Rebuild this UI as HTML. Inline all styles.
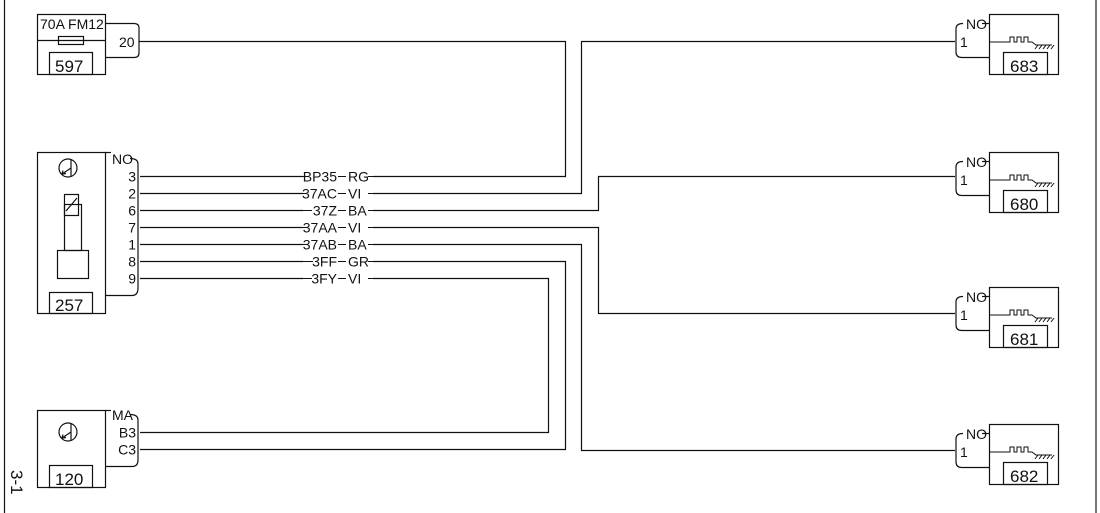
<!DOCTYPE html>
<html><head><meta charset="utf-8"><style>
html,body{margin:0;padding:0;background:#fff;}
svg{display:block;}
text{font-family:"Liberation Sans Narrow","Liberation Sans",sans-serif;font-size:14px;fill:#111;}
.big{font-size:17px;}
</style></head><body>
<svg width="1100" height="513" viewBox="0 0 1100 513" xmlns="http://www.w3.org/2000/svg">
<defs>
<g id="sig" stroke="#111" stroke-width="1" fill="none">
<path d="M0,28 H20 V23 H24 V28 H27 V23 H31 V28 H34 V23 H38 V28 H42 L46,31 H62"/>
<path d="M45,35 L48,31 M49,35 L52,31 M53,35 L56,31 M57,35 L60,31 M61,35 L64,31"/>
</g>
</defs>
<g stroke="#111" stroke-width="1.2" fill="none">
<line x1="4.5" y1="0" x2="4.5" y2="513"/>
<line x1="1096" y1="0" x2="1096" y2="513" stroke-width="1.6" stroke="#555"/>
<rect x="37.5" y="14.5" width="68" height="60"/>
<line x1="37" y1="40.5" x2="105" y2="40.5"/>
<rect x="58.5" y="36.5" width="25" height="8"/>
<rect x="49.5" y="52.5" width="43" height="22"/>
<path d="M105,23.5 H134 Q139,23.5 139,28 V53 Q139,57.5 134,57.5 H105"/>
<rect x="37.5" y="152.5" width="68" height="161"/>
<rect x="49.5" y="292.5" width="43" height="21"/>
<circle cx="68" cy="168" r="9"/>
<path d="M71,160 V176 M71,168 L62,174 M62,174 l4,-0.5 M62,174 l1,-3.5"/>
<rect x="64.5" y="194.5" width="14" height="21"/>
<line x1="66" y1="211" x2="77" y2="198"/>
<rect x="64.5" y="204.5" width="17" height="46" />
<rect x="57.5" y="250.5" width="31" height="28"/>
<path d="M105,152.5 H111"/>
<path d="M130,158.5 Q138,158.5 138,164 V288 Q138,295.5 132,295.5 H105"/>
<rect x="37.5" y="410.5" width="68" height="77"/>
<rect x="49.5" y="465.5" width="43" height="22"/>
<circle cx="68" cy="432" r="9"/>
<path d="M71,424 V440 M71,432 L62,438 M62,438 l4,-0.5 M62,438 l1,-3.5"/>
<path d="M105,410.5 H111"/>
<path d="M130,414.5 Q138,414.5 138,420 V460 Q138,466.5 132,466.5 H105"/>
<path d="M139,41.5 H565.5 V176.5 H140"/>
<path d="M140,193.5 H581.5 V41.5 H955"/>
<path d="M140,210.5 H598.5 V176.5 H955"/>
<path d="M140,227.5 H598.5 V313.5 H955"/>
<path d="M140,244.5 H581.5 V450.5 H955"/>
<path d="M140,261.5 H565.5 V449.5 H140"/>
<path d="M140,278.5 H548.5 V432.5 H140"/>
</g>
<g fill="#fff">
<rect x="303" y="169" width="70" height="15"/>
<rect x="303" y="186" width="70" height="15"/>
<rect x="303" y="203" width="70" height="15"/>
<rect x="303" y="220" width="70" height="15"/>
<rect x="303" y="237" width="70" height="15"/>
<rect x="303" y="254" width="70" height="15"/>
<rect x="303" y="271" width="70" height="15"/>
</g>
<g stroke="#111" stroke-width="1">
<line x1="338" y1="176.5" x2="346" y2="176.5"/><line x1="338" y1="193.5" x2="346" y2="193.5"/>
<line x1="338" y1="210.5" x2="346" y2="210.5"/><line x1="338" y1="227.5" x2="346" y2="227.5"/>
<line x1="338" y1="244.5" x2="346" y2="244.5"/><line x1="338" y1="261.5" x2="346" y2="261.5"/>
<line x1="338" y1="278.5" x2="346" y2="278.5"/>
<line x1="368" y1="176.5" x2="373" y2="176.5"/><line x1="368" y1="193.5" x2="373" y2="193.5"/>
<line x1="368" y1="210.5" x2="373" y2="210.5"/><line x1="368" y1="227.5" x2="373" y2="227.5"/>
<line x1="368" y1="244.5" x2="373" y2="244.5"/><line x1="368" y1="261.5" x2="373" y2="261.5"/>
<line x1="368" y1="278.5" x2="373" y2="278.5"/>
<line x1="303" y1="176.5" x2="308" y2="176.5"/><line x1="303" y1="193.5" x2="307" y2="193.5"/>
<line x1="303" y1="210.5" x2="312" y2="210.5"/><line x1="303" y1="227.5" x2="307" y2="227.5"/>
<line x1="303" y1="244.5" x2="307" y2="244.5"/><line x1="303" y1="261.5" x2="313" y2="261.5"/>
<line x1="303" y1="278.5" x2="312" y2="278.5"/>
</g>
<g text-anchor="end">
<text x="337" y="181.5">BP35</text><text x="337" y="198.5">37AC</text><text x="337" y="215.5">37Z</text>
<text x="337" y="232.5">37AA</text><text x="337" y="249.5">37AB</text><text x="337" y="266.5">3FF</text>
<text x="337" y="283.5">3FY</text>
</g>
<g>
<text x="348" y="181.5">RG</text><text x="348" y="198.5">VI</text><text x="348" y="215.5">BA</text>
<text x="348" y="232.5">VI</text><text x="348" y="249.5">BA</text><text x="348" y="266.5">GR</text>
<text x="348" y="283.5">VI</text>
</g>
<text x="40" y="29">70A FM12</text>
<text x="55" y="72" class="big">597</text>
<text x="119" y="47">20</text>
<text x="112" y="164">NO</text>
<g text-anchor="end">
<text x="136" y="181.5">3</text><text x="136" y="198.5">2</text><text x="136" y="215.5">6</text>
<text x="136" y="232.5">7</text><text x="136" y="249.5">1</text><text x="136" y="266.5">8</text>
<text x="136" y="283.5">9</text>
<text x="136" y="437.5">B3</text><text x="136" y="454.5">C3</text>
</g>
<text x="55" y="311" class="big">257</text>
<text x="112" y="420">MA</text>
<text x="55" y="485" class="big">120</text>
<text transform="translate(11,470) rotate(90)" class="big">3-1</text>
<g id="rc">
<g stroke="#111" stroke-width="1.2" fill="none">
<rect x="989.5" y="14.5" width="69" height="60"/>
<rect x="1003.5" y="52.5" width="44" height="22"/>
<path d="M982,23.5 H989"/>
<path d="M963,23.5 Q956,23.5 956,29 V52 Q956,57.5 962,57.5 H989"/>
</g>
<use href="#sig" x="990" y="14"/>
<text x="966" y="29">NO</text>
<text x="960" y="47">1</text>
</g>
<text x="1010" y="72" class="big">683</text>
<use href="#rc" y="138"/>
<text x="1010" y="210" class="big">680</text>
<use href="#rc" y="273"/>
<text x="1010" y="345" class="big">681</text>
<use href="#rc" y="410"/>
<text x="1010" y="482" class="big">682</text>
</svg>
</body></html>
